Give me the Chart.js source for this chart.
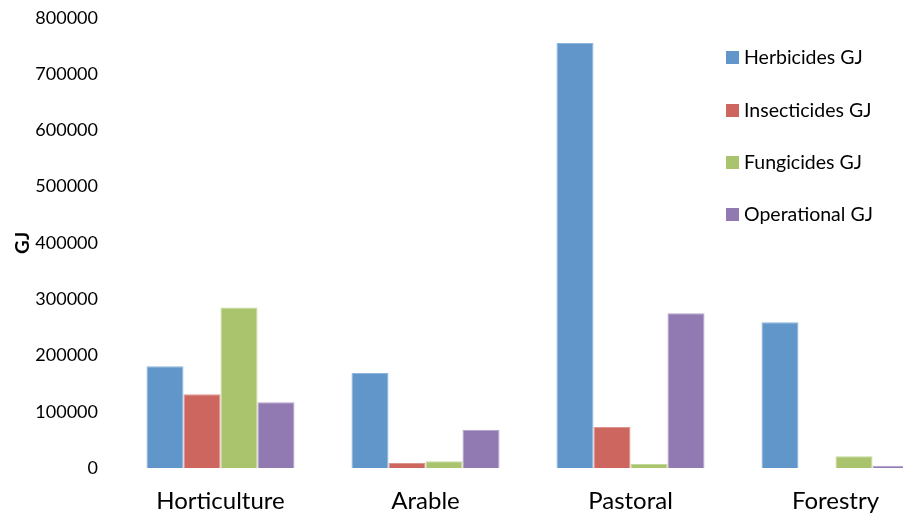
<!DOCTYPE html>
<html>
<head>
<meta charset="utf-8">
<script src="https://cdn.jsdelivr.net/npm/chart.js@4.4.0/dist/chart.umd.min.js"></script>
<style>
  html, body { margin: 0; padding: 0; background: #fff; overflow: hidden; }
  body { width: 903px; height: 520px; }
  #wrap { position: relative; width: 940px; height: 520px; }
</style>
</head>
<body>
<div id="wrap"><canvas id="c" width="940" height="520"></canvas></div>
<script>
// Energy use by land-use category (GJ)
const categories   = ['Horticulture', 'Arable', 'Pastoral', 'Forestry'];
const herbicides   = [181000, 169000, 755000, 259000];
const insecticides = [131000,   9000,  73000,      0];
const fungicides   = [285000,  12000,   7000,  21000];
const operational  = [117000,  68000, 275000,   4000];
const seriesNames  = ['Herbicides GJ', 'Insecticides GJ', 'Fungicides GJ', 'Operational GJ'];
const yTicks       = [0, 100000, 200000, 300000, 400000, 500000, 600000, 700000, 800000];

const fills   = ['#6096C9', '#CD665F', '#A9C46C', '#9179B2'];
const borders = ['#8DB4DB', '#DE9590', '#C4D898', '#B3A3CC'];
const FONT = 'Lato, "Open Sans", sans-serif';

// Vertical legend drawn inside the plot, at the upper right
const sideLegend = {
  id: 'sideLegend',
  afterDraw(chart) {
    const ctx = chart.ctx;
    ctx.save();
    ctx.font = '19.5px ' + FONT;
    ctx.textBaseline = 'middle';
    const rows = [57, 110, 162, 214];
    chart.data.datasets.forEach((ds, i) => {
      ctx.fillStyle = ds.backgroundColor;
      ctx.fillRect(726, rows[i] - 6, 13, 13);
      ctx.fillStyle = '#000';
      ctx.fillText(ds.label, 744, rows[i] + 1);
    });
    ctx.restore();
  }
};

const seriesData = [herbicides, insecticides, fungicides, operational];

new Chart(document.getElementById('c'), {
  type: 'bar',
  data: {
    labels: categories,
    datasets: seriesData.map((d, i) => ({
      label: seriesNames[i],
      data: d,
      backgroundColor: fills[i],
      borderColor: borders[i],
      borderWidth: 1,
      categoryPercentage: 0.722,
      barPercentage: 1.0
    }))
  },
  options: {
    responsive: false,
    animation: false,
    layout: { padding: { top: 4, right: 2, left: 0, bottom: 0 } },
    plugins: { legend: { display: false }, tooltip: { enabled: false } },
    scales: {
      x: {
        grid: { display: false, drawTicks: false },
        border: { display: false },
        ticks: { color: '#000', font: { family: FONT, size: 24 }, padding: 19 },
        afterFit(s) { s.height = 52; }
      },
      y: {
        min: 0,
        max: 800000,
        grid: { display: false, drawTicks: true, tickLength: 13 },
        border: { display: false },
        afterBuildTicks(s) { s.ticks = yTicks.map(v => ({ value: v })); },
        ticks: {
          color: '#000',
          font: { family: FONT, size: 18 },
          padding: 7,
          callback: v => String(v)
        },
        title: {
          display: true,
          text: 'GJ',
          color: '#000',
          font: { family: FONT, size: 19, weight: 'bold' },
          padding: { top: 11, bottom: 0 }
        },
        afterFit(s) { s.width = 118; }
      }
    }
  },
  plugins: [sideLegend]
});
</script>
</body>
</html>
